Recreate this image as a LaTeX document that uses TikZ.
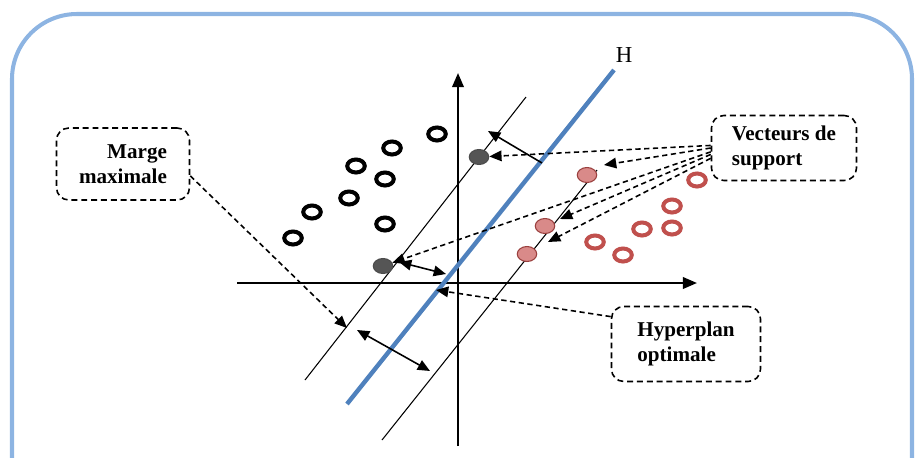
\documentclass[tikz,border=0pt]{standalone}
\usepackage{fontspec}
\setmainfont{Liberation Serif}
\usepackage{tikz}
\usetikzlibrary{shapes.geometric,arrows.meta,positioning}

\definecolor{framebl}{HTML}{8DB4E2}
\definecolor{hyperbl}{HTML}{4F81BD}
\definecolor{redpt}{HTML}{C0504D}
\definecolor{redfill}{HTML}{D98A89}
\definecolor{greypt}{HTML}{555555}

\begin{document}
\begin{tikzpicture}[
x=0.02cm, y=-0.02cm,
font=\fontsize{12}{14.5}\selectfont\bfseries,
frame/.style={draw=framebl, line width=2.3pt, rounded corners=1.3cm},
lbl/.style={draw, dashed, dash pattern=on 3.4pt off 2.2pt, line width=0.9pt, rounded corners=7pt, inner sep=0pt},
ring/.style={ellipse, draw, line width=2.3pt, minimum width=0.35cm, minimum height=0.26cm, inner sep=0pt},
blk/.style={ring, draw=black},
red/.style={ring, draw=redpt},
dot/.style={ellipse, draw, line width=0.6pt, minimum width=0.39cm, minimum height=0.3cm, inner sep=0pt},
sv/.style={dot, fill=redfill, draw=redpt!80!black},
gv/.style={dot, fill=greypt, draw=black!70},
axis/.style={line width=1.3pt, -{Triangle[length=8pt,width=6.5pt]}},
marg/.style={line width=0.6pt},
hyp/.style={draw=hyperbl, line width=2.5pt},
arr/.style={line width=0.9pt, -{Triangle[length=7pt,width=6pt]}},
darr/.style={line width=0.9pt, {Triangle[length=7pt,width=6pt]}-{Triangle[length=7pt,width=6pt]}},
dsh/.style={arr, dashed, dash pattern=on 3pt off 2pt}
]
\useasboundingbox (0,0) rectangle (917,457);
\clip (0,0) rectangle (917,457);

% Frame
\draw[frame] (12,14) rectangle (912,540);

% Axes
\coordinate (xa) at (237,283);
\coordinate (xb) at (697,283);
\coordinate (ya) at (458,446);
\coordinate (yb) at (458,73);
\draw[axis] (xa) -- (xb);
\draw[axis] (ya) -- (yb);

% Margin lines
\coordinate (m1a) at (305,380);
\coordinate (m1b) at (526,97);
\coordinate (m2a) at (382,440);
\coordinate (m2b) at (597,170);
\draw[marg] (m1a) -- (m1b);
\draw[marg] (m2a) -- (m2b);

% Hyperplane
\coordinate (h1) at (347,404);
\coordinate (h2) at (614,70);
\draw[hyp] (h1) -- (h2);
\node[font=\fontsize{13}{15}\selectfont\mdseries] (hlab) at (624,55) {H};

% Black class
\node[blk] (o1) at (293,238) {};
\node[blk] (o2) at (312,212) {};
\node[blk] (o3) at (349,198) {};
\node[blk] (o4) at (356,166) {};
\node[blk] (o5) at (385,179) {};
\node[blk] (o6) at (392,148) {};
\node[blk] (o7) at (437,134) {};
\node[blk] (o8) at (385,224) {};

% Red class
\node[red] (r1) at (697,180) {};
\node[red] (r2) at (672,206) {};
\node[red] (r3) at (642,229) {};
\node[red] (r4) at (672,228) {};
\node[red] (r5) at (595,242) {};
\node[red] (r6) at (623,255) {};

% Support vectors
\node[gv] (gt) at (479,157) {};
\node[gv] (gb) at (383,266) {};
\node[sv] (s1) at (587,175) {};
\node[sv] (s2) at (545,226) {};
\node[sv] (s3) at (527,254) {};

% Labels
\node[lbl, minimum width=2.66cm, minimum height=1.44cm, align=right] (marge) at (123,164) {Marge\\maximale};
\node[lbl, minimum width=2.9cm, minimum height=1.3cm, align=left] (vect) at (784,148) {Vecteurs de\\support};
\node[lbl, minimum width=2.98cm, minimum height=1.5cm, align=left] (hyper) at (686,344) {Hyperplan\\optimale};

% Margin arrows
\coordinate (mg1) at (347,328);
\coordinate (mg2) at (357,330);
\coordinate (mg3) at (430,371);
\coordinate (gb1) at (399,262);
\coordinate (gb2) at (446,274);
\coordinate (gt1) at (542,163);
\coordinate (gt2) at (488,131);
\draw[darr] (mg2) -- (mg3);
\draw[darr] (gb1) -- (gb2);
\draw[arr] (gt1) -- (gt2);

% Label pointers
\coordinate (p1) at (604,165);
\coordinate (p2) at (560,219);
\coordinate (p3) at (548,242);
\coordinate (p4) at (436,290);
\draw[dsh] (marge.-10) -- (mg1);
\draw[dsh] (vect.178) -- (gt);
\draw[dsh] (vect.180) -- (p1);
\draw[dsh] (vect.183) -- (gb);
\draw[dsh] (vect.185) -- (p2);
\draw[dsh] (vect.188) -- (p3);
\draw[dsh] (hyper.160) -- (p4);

\end{tikzpicture}
\end{document}
